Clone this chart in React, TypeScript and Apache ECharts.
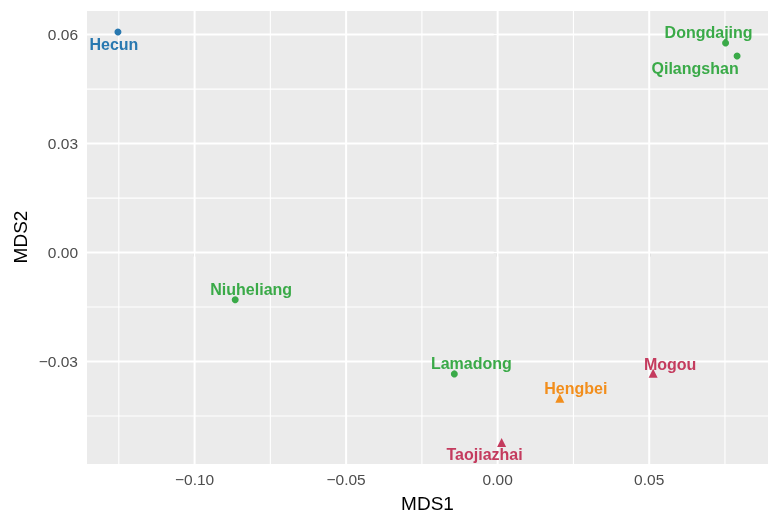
import React, { useEffect, useRef } from "react";
import * as echarts from "echarts";

const sites = ["Hecun", "Dongdajing", "Qilangshan", "Niuheliang", "Lamadong", "Hengbei", "Mogou", "Taojiazhai"];
const mds1 = [-0.1253, 0.0752, 0.079, -0.0866, -0.0143, 0.0205, 0.0513, 0.0013];
const mds2 = [0.0607, 0.0577, 0.0541, -0.013, -0.0334, -0.0401, -0.0332, -0.0523];
const groups = ["A", "B", "B", "B", "B", "C", "D", "D"];
const groupNames = ["A", "B", "C", "D"];
const groupColors = ["#2878B0", "#3AAA48", "#F28E1C", "#C43B5E"];
const groupShapes = ["circle", "circle", "triangle", "triangle"];
const xTicks = [-0.1, -0.05, 0, 0.05];
const yTicks = [-0.03, 0, 0.03, 0.06];
const xMinor = [-0.125, -0.075, -0.025, 0.025, 0.075];
const yMinor = [-0.045, -0.015, 0.015, 0.045];
const xRange = [-0.1355, 0.0892];
const yRange = [-0.0582, 0.0665];

const labelOffsets: Record<string, [number, number]> = {
  Hecun: [-4, 12],
  Dongdajing: [-17, -10],
  Qilangshan: [-42, 12],
  Niuheliang: [16, -10],
  Lamadong: [17, -10],
  Hengbei: [16, -10],
  Mogou: [17, -9],
  Taojiazhai: [-17, 12],
};

const FONT = "Liberation Sans, Arial, sans-serif";
const fmt = (v: number) => v.toFixed(2).replace("-", "\u2212");

export default function App() {
  const ref = useRef<HTMLDivElement>(null);
  useEffect(() => {
    if (!ref.current) return;
    const chart = echarts.init(ref.current, undefined, { renderer: "svg" });
    const scatterSeries = groupNames.map((g, gi) => ({
      type: "scatter",
      name: g,
      z: 3,
      symbol: groupShapes[gi],
      symbolSize: groupShapes[gi] === "circle" ? 7 : 9,
      itemStyle: { color: groupColors[gi], opacity: 1 },
      data: sites
        .map((s, i) => ({ s, i }))
        .filter(({ i }) => groups[i] === g)
        .map(({ s, i }) => ({
          name: s,
          value: [mds1[i], mds2[i]],
          label: {
            show: true,
            position: "inside",
            offset: labelOffsets[s],
            formatter: s,
            color: groupColors[gi],
            fontWeight: "bold",
            fontSize: 16,
            fontFamily: FONT,
          },
        })),
    }));
    const lineSeries = (pts: number[][], w: number) => ({
      type: "line",
      z: 1,
      silent: true,
      symbol: "none",
      clip: false,
      data: pts,
      lineStyle: { color: "#FFFFFF", width: w },
    });
    const gridSeries = [
      ...xMinor.map((v) => lineSeries([[v, yRange[0]], [v, yRange[1]]], 1.1)),
      ...yMinor.map((v) => lineSeries([[xRange[0], v], [xRange[1], v]], 1.1)),
      ...xTicks.map((v) => lineSeries([[v, yRange[0]], [v, yRange[1]]], 2)),
      ...yTicks.map((v) => lineSeries([[xRange[0], v], [xRange[1], v]], 2)),
    ];
    const axisLabelStyle = {
      color: "#4D4D4D",
      fontSize: 15.5,
      fontFamily: FONT,
      formatter: (v: number) => fmt(v),
    };
    chart.setOption({
      animation: false,
      grid: {
        left: 87,
        right: 5,
        top: 11,
        bottom: 54,
        show: true,
        backgroundColor: "#EBEBEB",
        borderWidth: 0,
      },
      xAxis: {
        type: "value",
        min: xRange[0],
        max: xRange[1],
        axisLine: { show: false },
        splitLine: { show: false },
        axisTick: { show: true, customValues: xTicks, length: 4, lineStyle: { color: "#333333", width: 1.2 } },
        axisLabel: { ...axisLabelStyle, customValues: xTicks, margin: 7 },
      },
      yAxis: {
        type: "value",
        min: yRange[0],
        max: yRange[1],
        axisLine: { show: false },
        splitLine: { show: false },
        axisTick: { show: true, customValues: yTicks, length: 4, lineStyle: { color: "#333333", width: 1.2 } },
        axisLabel: { ...axisLabelStyle, customValues: yTicks, margin: 9 },
      },
      graphic: [
        {
          type: "text",
          x: 427.5,
          y: 503,
          style: {
            text: "MDS1",
            fill: "#000000",
            fontSize: 19,
            fontFamily: FONT,
            textAlign: "center",
            textVerticalAlign: "middle",
          },
        },
        {
          type: "text",
          x: 20,
          y: 237,
          rotation: Math.PI / 2,
          style: {
            text: "MDS2",
            fill: "#000000",
            fontSize: 19,
            fontFamily: FONT,
            textAlign: "center",
            textVerticalAlign: "middle",
          },
        },
      ],
      series: [...gridSeries, ...scatterSeries],
    });
    return () => chart.dispose();
  }, []);
  return <div ref={ref} style={{ position: "fixed", left: 0, top: 0, width: 773, height: 518 }} />;
}
